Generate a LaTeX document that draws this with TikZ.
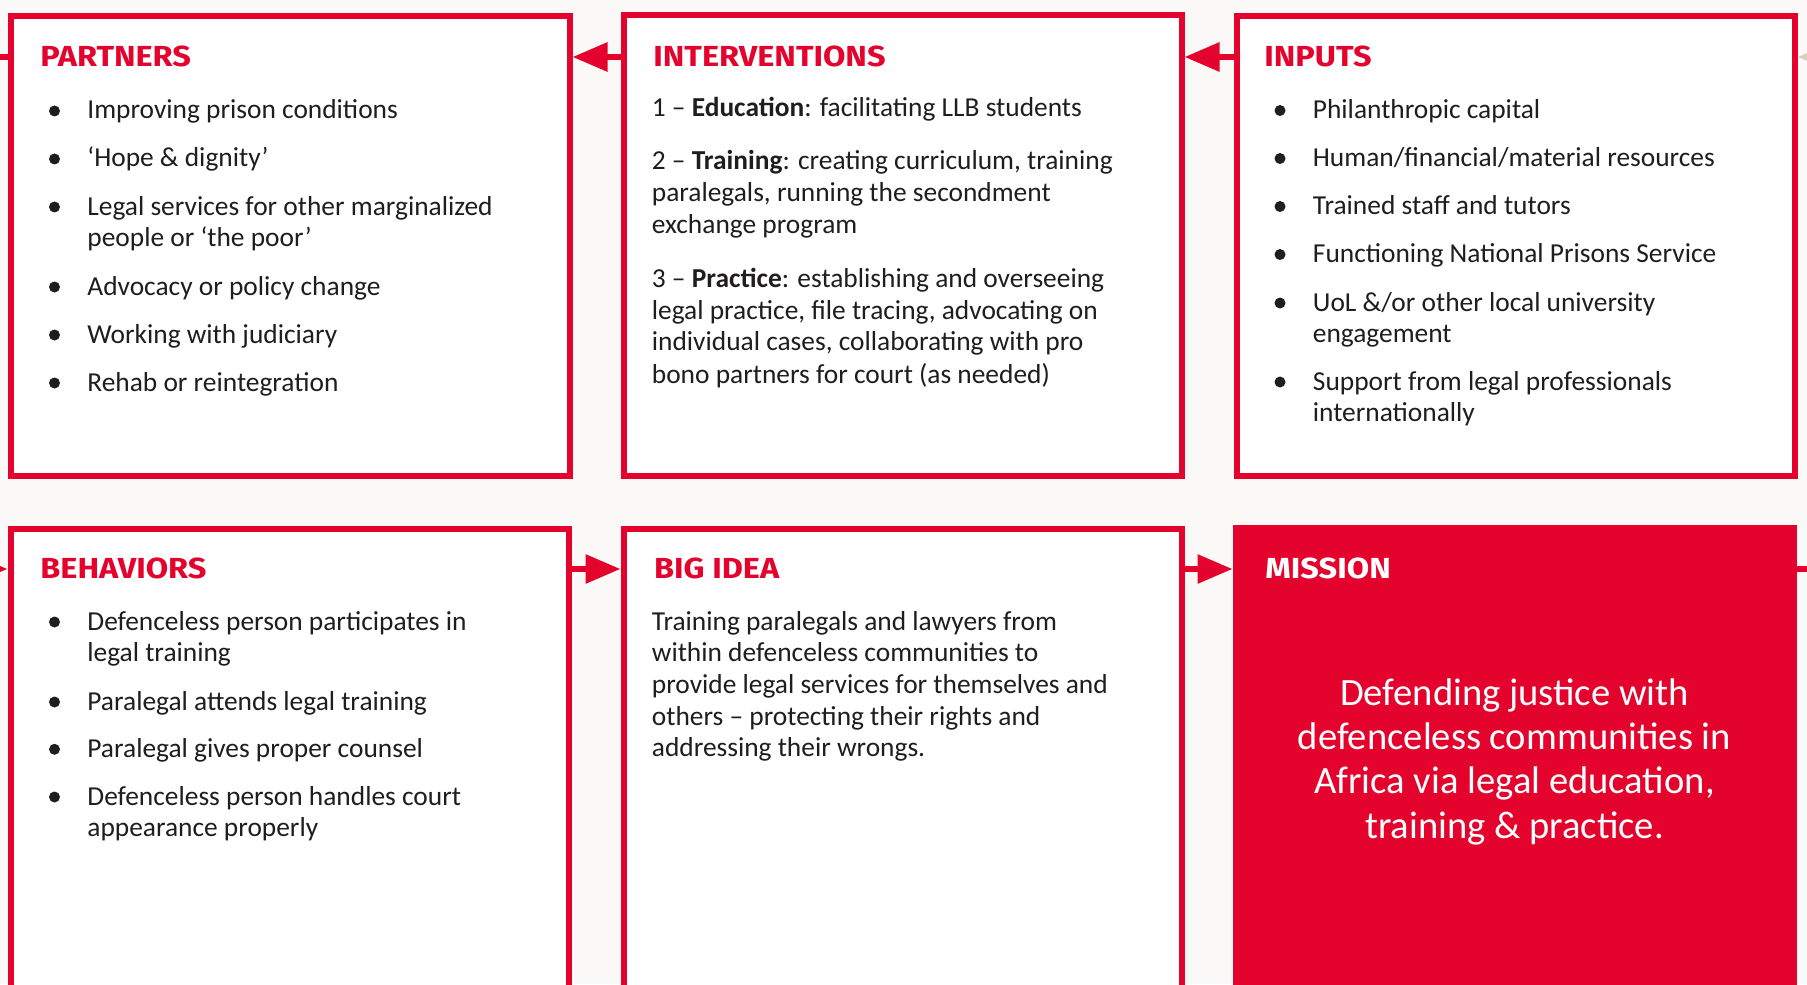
\documentclass[tikz,border=0pt]{standalone}
\usepackage{fontspec}
\setmainfont{Carlito}
\newfontfamily\headfont{Fira Sans}[FakeStretch=1.12]
\usetikzlibrary{arrows.meta}
\definecolor{brandred}{HTML}{E4032C}
\definecolor{bgc}{HTML}{FAF9F7}
\definecolor{textc}{HTML}{1F1D1E}
\definecolor{faint}{HTML}{D8CFC0}
\begin{document}
\begin{tikzpicture}[x=0.5pt,y=-0.5pt,
  box/.style={draw=brandred, line width=3pt, fill=white, rectangle, inner sep=0pt},
  heading/.style={font=\headfont\bfseries\fontsize{14.5}{17}\selectfont, text=brandred, anchor=base west, inner sep=0pt},
  body/.style={font=\fontsize{13.7}{16}\selectfont, text=textc, anchor=base west, inner sep=0pt},
  mtext/.style={font=\fontsize{19.3}{22}\selectfont, text=white, anchor=base, inner sep=0pt},
  bul/.style={circle, fill=textc, inner sep=0pt, minimum size=5.5pt},
  arr/.style={draw=brandred, line width=3pt, -{Triangle[length=17.5pt,width=14pt]}},
  arrfaint/.style={draw=faint, line width=3pt, -{Triangle[length=17.5pt,width=14pt]}},
  conn/.style={draw=brandred, line width=3pt}]
\useasboundingbox (0,0) rectangle (1807,984);
\fill[bgc] (0,0) rectangle (1807,984);
\clip (0,0) rectangle (1807,984);

% boxes
\node[box, minimum width=279.5pt, minimum height=229.75pt] (partners) at (290,246.25) {};
\node[box, minimum width=279pt, minimum height=230pt] (inter) at (902.5,245.5) {};
\node[box, minimum width=279pt, minimum height=229.75pt] (inputs) at (1515.5,246.25) {};
\node[box, minimum width=279pt, minimum height=285.75pt] (behav) at (289.5,814.25) {};
\node[box, minimum width=279pt, minimum height=285.75pt] (bigidea) at (902.5,814.25) {};
\node[fill=brandred, inner sep=0pt, outer sep=0pt, minimum width=282.25pt, minimum height=287.5pt] (mission) at (1514.75,812.5) {};

% connectors
\coordinate (rowA) at (0,57);
\coordinate (rowB) at (0,569);
\coordinate (offL1) at (-40,57);
\coordinate (offR1) at (1860,57);
\coordinate (offL2) at (-60,569);
\coordinate (offR2) at (1860,569);
\draw[arr] (inputs.west |- rowA) -- (inter.east |- rowA);
\draw[arr] (inter.west |- rowA) -- (partners.east |- rowA);
\draw[conn] (partners.west |- rowA) -- (offL1);
\draw[arrfaint] (offR1) -- (inputs.east |- rowA);
\draw[arr] (offL2) -- (behav.west |- rowB);
\draw[arr] (behav.east |- rowB) -- (bigidea.west |- rowB);
\draw[arr] (bigidea.east |- rowB) -- (mission.west |- rowB);
\draw[conn] (mission.east |- rowB) -- (offR2);

% headings
\node[heading] (hpart) at (40,66.7) {PARTNERS};
\node[heading] (hinter) at (653,66.7) {INTERVENTIONS};
\node[heading] (hinput) at (1264,66.7) {INPUTS};
\node[heading] (hbehav) at (40,578.3) {BEHAVIORS};
\node[heading] (hbig) at (653.7,578.3) {BIG IDEA};
\node[heading, text=white] (hmission) at (1265,578.3) {MISSION};

% partners list
\foreach \y [count=\i] in {119,167,215,295,343,391}
  \node[bul] (pb\i) at (54.5,\y-8) {};
\foreach \y/\t [count=\i] in {119/{Improving prison conditions},167/{‘Hope \& dignity’},215/{Legal services for other marginalized},246.7/{people or ‘the poor’},295/{Advocacy or policy change},343/{Working with judiciary},391/{Rehab or reintegration}}
  \node[body] (pt\i) at (87,\y) {\t};

% interventions
\foreach \y/\t [count=\i] in {116.7/{1 – \textbf{Education}: facilitating LLB students},170/{2 – \textbf{Training}: creating curriculum, training},201.7/{paralegals, running the secondment},233.3/{exchange program},287.3/{3 – \textbf{Practice}: establishing and overseeing},319.3/{legal practice, file tracing, advocating on},350.7/{individual cases, collaborating with pro},383/{bono partners for court (as needed)}}
  \node[body] (it\i) at (651.5,\y) {\t};

% inputs list
\foreach \y [count=\i] in {118.5,166.5,214.5,262.5,311,390}
  \node[bul] (ib\i) at (1280,\y-8) {};
\foreach \y/\t [count=\i] in {118.5/{Philanthropic capital},166.5/{Human/financial/material resources},214.5/{Trained staff and tutors},262.5/{Functioning National Prisons Service},311/{UoL \&/or other local university},342/{engagement},390/{Support from legal professionals},421.7/{internationally}}
  \node[body] (in\i) at (1312.5,\y) {\t};

% behaviors list
\foreach \y [count=\i] in {630,710,757.3,805}
  \node[bul] (bb\i) at (54.5,\y-8) {};
\foreach \y/\t [count=\i] in {630/{Defenceless person participates in},661.7/{legal training},710/{Paralegal attends legal training},757.3/{Paralegal gives proper counsel},805/{Defenceless person handles court},836.7/{appearance properly}}
  \node[body] (bt\i) at (87,\y) {\t};

% big idea
\foreach \y/\t [count=\i] in {630/{Training paralegals and lawyers from},661.7/{within defenceless communities to},693.3/{provide legal services for themselves and},725/{others – protecting their rights and},756.7/{addressing their wrongs.}}
  \node[body] (gt\i) at (651.5,\y) {\t};

% mission
\foreach \y/\t [count=\i] in {705/{Defending justice with},749.4/{defenceless communities in},793.8/{Africa via legal education,},838.2/{training \& practice.}}
  \node[mtext] (mt\i) at (1514.5,\y) {\t};
\end{tikzpicture}
\end{document}
